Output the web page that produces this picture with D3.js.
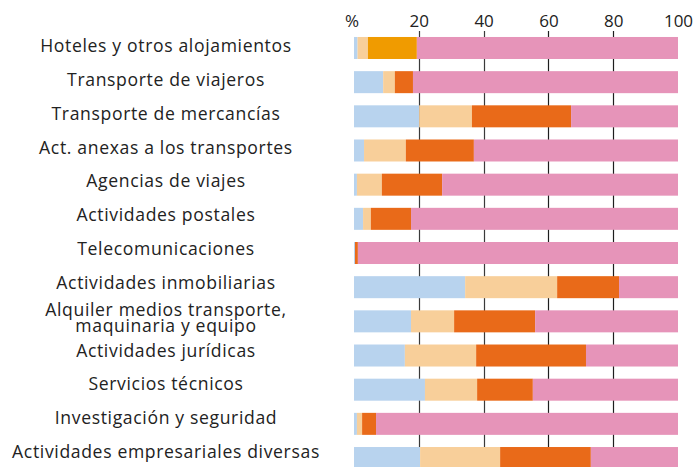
<!DOCTYPE html>
<html>
<head>
<meta charset="utf-8">
<script src="https://cdn.jsdelivr.net/npm/d3@7"></script>
<style>
  html, body { margin: 0; padding: 0; background: #fff; }
  svg text { font-family: "Open Sans", "Noto Sans", sans-serif; fill: #222; }
</style>
</head>
<body>
<svg id="chart" width="693" height="467"></svg>
<script>
// Sector labels (a "\n" splits a label over two lines)
const categories = [
  "Hoteles y otros alojamientos",
  "Transporte de viajeros",
  "Transporte de mercancías",
  "Act. anexas a los transportes",
  "Agencias de viajes",
  "Actividades postales",
  "Telecomunicaciones",
  "Actividades inmobiliarias",
  "Alquiler medios transporte,\nmaquinaria y equipo",
  "Actividades jurídicas",
  "Servicios técnicos",
  "Investigación y seguridad",
  "Actividades empresariales diversas"
];

// Percentage shares per sector, four stacked components
const serieA = [1.1, 9.0, 20.1, 3.1, 0.9, 2.8, 0.3, 34.3, 17.6, 15.7, 21.9, 0.9, 20.4];
const serieB = [3.2, 3.6, 16.3, 12.9, 7.7, 2.4, 0.0, 28.4, 13.3, 22.0, 16.1, 1.6, 24.7];
const serieC = [15.1, 5.6, 30.6, 21.0, 18.6, 12.4, 0.9, 19.1, 25.0, 33.9, 17.2, 4.3, 28.0];
const serieD = [80.6, 81.8, 33.0, 63.0, 72.8, 82.4, 98.8, 18.2, 44.1, 28.4, 44.8, 93.2, 26.9];

const tickValues = [20, 40, 60, 80, 100];
const unitLabel = "%";

// Sectors whose third component is shown in the accent colour
const accentSectors = ["Hoteles y otros alojamientos"];

const keys = ["a", "b", "c", "d"];
const colors = { a: "#B8D3EE", b: "#F8CF9A", c: "#E96A19", d: "#E694B9" };
const accentColor = "#F09B00";

const rows = categories.map((name, i) => ({
  name, a: serieA[i], b: serieB[i], c: serieC[i], d: serieD[i]
}));

const svg = d3.select("#chart");

const x = d3.scaleLinear().domain([0, 100]).range([354, 678]);
const step = 34.17;
const y = d3.scaleBand()
  .domain(categories)
  .range([30.9, 30.9 + step * categories.length])
  .paddingInner(0.356)
  .paddingOuter(0.178);

// Label column: vertical centre of each label block
const yLabel = d3.scalePoint().domain(categories).range([46, 452]);

// Vertical reference lines behind the bars
const lastBottom = y(categories[categories.length - 1]);
svg.append("g")
  .selectAll("line")
  .data(tickValues.filter(v => v < 100))
  .join("line")
  .attr("x1", d => Math.round(x(d)) + 0.5)
  .attr("x2", d => Math.round(x(d)) + 0.5)
  .attr("y1", 31)
  .attr("y2", lastBottom)
  .attr("stroke", d => d < 50 ? "#3a3a3a" : "#1e1e1e")
  .attr("stroke-width", 1.2);

// Stacked bars
const stacked = d3.stack().keys(keys)(rows);
svg.append("g")
  .selectAll("g")
  .data(stacked)
  .join("g")
  .each(function (layer) {
    d3.select(this).selectAll("rect")
      .data(layer)
      .join("rect")
      .attr("x", d => x(d[0]))
      .attr("width", d => Math.max(0, x(d[1]) - x(d[0])))
      .attr("y", d => y(d.data.name))
      .attr("height", y.bandwidth())
      .attr("fill", d => (layer.key === "c" && accentSectors.includes(d.data.name))
        ? accentColor : colors[layer.key]);
  });

// Top axis labels
const axis = d3.axisTop(x).tickValues(tickValues).tickSize(0).tickPadding(0);
const gAxis = svg.append("g").attr("transform", "translate(0,27)").call(axis);
gAxis.select(".domain").remove();
gAxis.selectAll("text")
  .attr("font-size", 17)
  .attr("dy", 0)
  .style("font-family", "'Open Sans', 'Noto Sans', sans-serif")
  .attr("fill", "#333");
svg.append("text")
  .attr("x", 352)
  .attr("y", 27)
  .attr("text-anchor", "middle")
  .attr("font-size", 17)
  .attr("fill", "#333")
  .text(unitLabel);

// Category labels
const labelX = 166;
const lineGap = 16;
const labels = svg.append("g")
  .selectAll("text")
  .data(categories)
  .join("text")
  .attr("text-anchor", "middle")
  .attr("font-size", 17.6)
  .attr("x", labelX)
  .attr("y", d => {
    const lines = d.split("\n").length;
    return yLabel(d) + 6 - (lines - 1) * (lineGap / 2 - 1);
  });
labels.each(function (d) {
  d3.select(this).selectAll("tspan")
    .data(d.split("\n"))
    .join("tspan")
    .attr("x", labelX)
    .attr("dy", (t, i) => i === 0 ? 0 : lineGap)
    .text(t => t);
});

// Slightly open the tracking so the first label spans about 251px
const ref = labels.filter(d => d === categories[0]).node();
const w = ref.getComputedTextLength();
const spacing = Math.max(0, (251 - w) / (categories[0].length - 1));
labels.attr("letter-spacing", spacing.toFixed(2));
</script>
</body>
</html>
